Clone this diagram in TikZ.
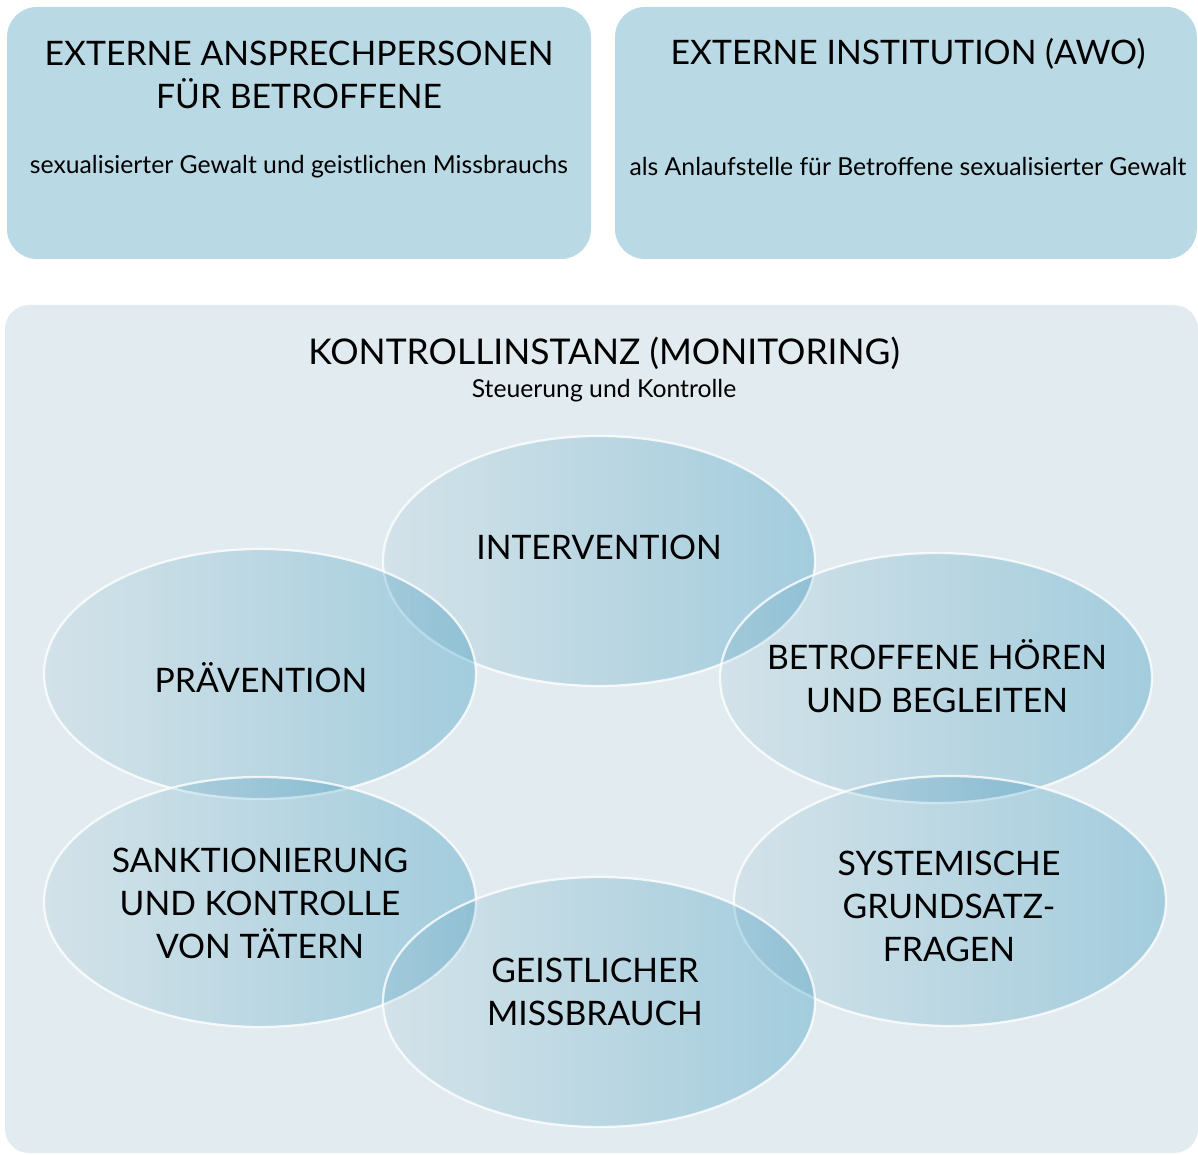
\documentclass[tikz,border=0pt]{standalone}
\usepackage{fontspec}
\setmainfont{Lato}
\usetikzlibrary{shapes.geometric}

\definecolor{topblue}{RGB}{185,217,229}
\definecolor{panelgray}{RGB}{226,235,239}
\definecolor{ellleft}{RGB}{239,246,249}
\definecolor{ellright}{RGB}{184,222,236}

\begin{document}
\begin{tikzpicture}[
  headtext/.style={font=\fontsize{24}{30.6}\selectfont, align=center, inner sep=0pt},
  subtext/.style={font=\fontsize{17.6}{20}\selectfont, inner sep=0pt},
  ring/.style={ellipse, minimum width=10.8cm, minimum height=6.25cm, inner sep=0pt,
    left color=ellleft, right color=ellright, blend mode=multiply,
    postaction={draw=white, draw opacity=0.8, line width=1.6pt, blend mode=normal}}
]
\def\boxradius{0.75cm}
\useasboundingbox (0,0) rectangle (29.95,28.875);

\begin{scope}[shift={(0, 0)}] % TOP ROW
\fill[topblue, rounded corners=\boxradius] (0.175, 22.4) rectangle (14.775, 28.7);
\node[headtext] (ansprech) at (7.475, 26.99) {EXTERNE ANSPRECHPERSONEN\\FÜR BETROFFENE};
\node[subtext] (ansprechsub) at (7.475, 24.7) {sexualisierter Gewalt und geistlichen Missbrauchs};

\fill[topblue, rounded corners=\boxradius] (15.375, 22.4) rectangle (29.92, 28.7);
\node[headtext] (awo) at (22.7, 27.525) {EXTERNE INSTITUTION (AWO)};
\node[subtext] (awosub) at (22.7, 24.7) {als Anlaufstelle für Betroffene sexualisierter Gewalt};
\end{scope}

\begin{scope}[shift={(0, 0)}] % MONITORING PANEL
\fill[panelgray, rounded corners=0.6cm] (0.125, 0.05) rectangle (29.95, 21.25);
\node[headtext, font=\fontsize{25.2}{30.6}\selectfont] (monitor) at (15.1, 20.05) {KONTROLLINSTANZ (MONITORING)};
\node[subtext] (monitorsub) at (15.1, 19.12) {Steuerung und Kontrolle};

% the six fields
\node[ring] (interv) at (14.975, 14.85) {};
\node[ring] (praev) at (6.5, 12.025) {};
\node[ring] (hoeren) at (23.4, 11.925) {};
\node[ring] (sankt) at (6.5, 6.325) {};
\node[ring] (system) at (23.75, 6.35) {};
\node[ring] (geistl) at (14.975, 3.825) {};

\node[headtext, yshift=0.35cm] (intervtext) at (interv) {INTERVENTION};
\node[headtext] (praevtext) at (6.525, 11.925) {PRÄVENTION};
\node[headtext] (hoerentext) at (23.425, 11.975) {BETROFFENE HÖREN\\UND BEGLEITEN};
\node[headtext] (sankttext) at (6.5, 6.3) {SANKTIONIERUNG\\UND KONTROLLE\\VON TÄTERN};
\node[headtext] (systemtext) at (23.725, 6.225) {SYSTEMISCHE\\GRUNDSATZ-\\FRAGEN};
\node[headtext] (geistltext) at (14.875, 4.075) {GEISTLICHER\\MISSBRAUCH};
\end{scope}
\end{tikzpicture}
\end{document}
